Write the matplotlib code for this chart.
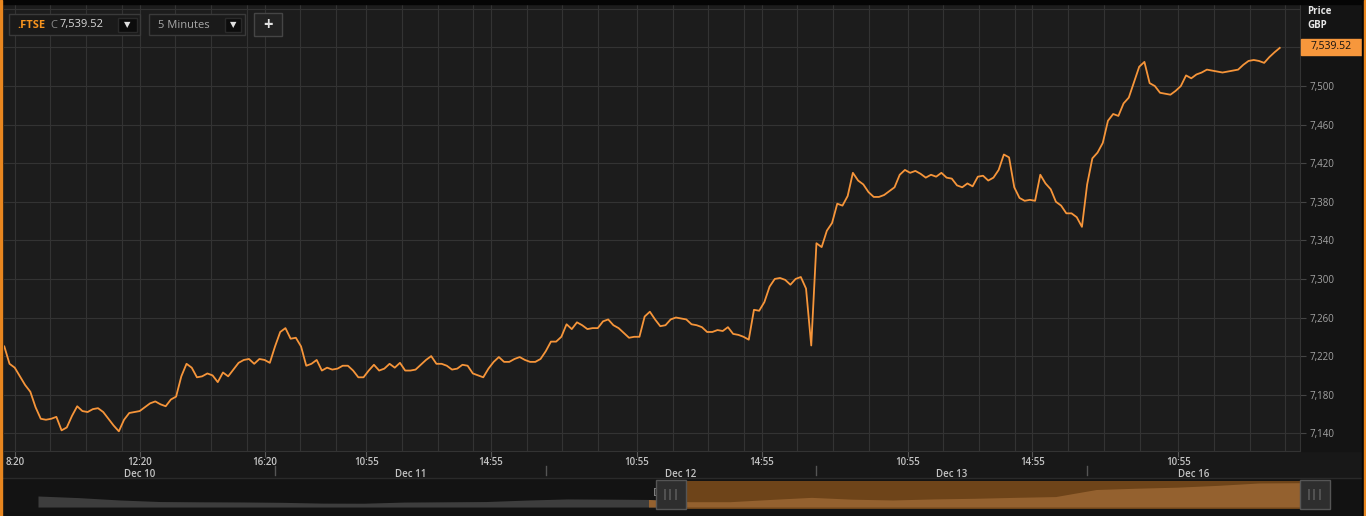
import numpy as np
import matplotlib.pyplot as plt
from matplotlib.patches import Rectangle
from matplotlib.lines import Line2D

plt.rcParams['font.family'] = ['Open Sans', 'DejaVu Sans']

# FTSE 100, 10-minute closes per session (8:00 .. 16:30)
sessions = ['Dec 10', 'Dec 11', 'Dec 12', 'Dec 13', 'Dec 16']
dec10 = [7230, 7212, 7208, 7199, 7190, 7183, 7167, 7155, 7154, 7155,
         7157, 7143, 7146, 7158, 7168, 7163, 7162, 7165, 7166, 7162,
         7155, 7148, 7142, 7154, 7161, 7162, 7163, 7167, 7171, 7173,
         7170, 7168, 7175, 7178, 7199, 7212, 7208, 7198, 7199, 7202,
         7200, 7193, 7203, 7199, 7206, 7213, 7216, 7217, 7212, 7217,
         7216, 7213]
dec11 = [7230, 7245, 7249, 7238, 7239, 7230, 7210, 7212, 7216, 7205,
         7208, 7206, 7207, 7210, 7210, 7205, 7198, 7198, 7205, 7211,
         7205, 7207, 7212, 7208, 7213, 7205, 7205, 7206, 7211, 7216,
         7220, 7212, 7212, 7210, 7206, 7207, 7211, 7210, 7202, 7200,
         7198, 7207, 7214, 7219, 7214, 7214, 7217, 7219, 7216, 7214,
         7214, 7217]
dec12 = [7225, 7235, 7235, 7240, 7253, 7248, 7255, 7252, 7248, 7249,
         7249, 7256, 7258, 7252, 7249, 7244, 7239, 7240, 7240, 7261,
         7266, 7258, 7251, 7252, 7258, 7260, 7259, 7258, 7253, 7252,
         7250, 7245, 7245, 7247, 7246, 7250, 7243, 7242, 7240, 7237,
         7268, 7267, 7276, 7292, 7300, 7301, 7299, 7294, 7300, 7302,
         7290, 7231]
dec13 = [7337, 7333, 7350, 7358, 7378, 7376, 7386, 7410, 7402, 7398,
         7390, 7385, 7385, 7387, 7391, 7395, 7408, 7413, 7410, 7412,
         7409, 7405, 7408, 7406, 7410, 7405, 7404, 7397, 7395, 7399,
         7396, 7406, 7407, 7402, 7405, 7413, 7429, 7426, 7395, 7384,
         7381, 7382, 7381, 7408, 7399, 7393, 7380, 7376, 7368, 7368,
         7364, 7354]
dec16 = [7398, 7425, 7431, 7441, 7464, 7471, 7469, 7482, 7488, 7504,
         7520, 7525, 7503, 7500, 7493, 7492, 7491, 7495, 7500, 7511,
         7508, 7512, 7514, 7517, 7516, 7515, 7514, 7515, 7516, 7517,
         7522, 7526, 7527, 7526, 7524, 7530, 7535, 7539.52]
closes = [dec10, dec11, dec12, dec13, dec16]
last_price = 7539.52

tick_day = [0, 0, 0, 1, 1, 2, 2, 3, 3, 4]
tick_time = ['8:20', '12:20', '16:20', '10:55', '14:55',
             '10:55', '14:55', '10:55', '14:55', '10:55']
y_ticks = [7140, 7180, 7220, 7260, 7300, 7340, 7380, 7420, 7460, 7500, 7540]

# navigator (longer history)
nav_vals = [7256, 7225, 7180, 7150, 7145, 7142, 7135, 7120, 7118, 7140,
            7145, 7150, 7178, 7200, 7196, 7190, 7147, 7147, 7190, 7230,
            7195, 7180, 7200, 7212, 7230, 7245, 7380, 7405, 7425, 7460,
            7505, 7510]

SLOTS = 52  # 10-minute slots per session
W, H = 1366, 516


def fx(px):
    return px / W


def fy(py):
    return 1 - py / H


def slot(day, hhmm):
    h, m = hhmm.split(':')
    return day * SLOTS + (int(h) * 60 + int(m) - 480) / 10


t, p = [], []
for d, vals in enumerate(closes):
    t += [d * SLOTS + k for k in range(len(vals))]
    p += vals

fig = plt.figure(figsize=(W / 100, H / 100), dpi=100, facecolor='#161616')

# background bands
fig.patches.append(Rectangle((0, fy(516)), 1, 38 / H, transform=fig.transFigure,
                             color='#121212', zorder=-5))
fig.patches.append(Rectangle((0, fy(478)), 1, 27 / H, transform=fig.transFigure,
                             color='#181818', zorder=-5))
fig.patches.append(Rectangle((fx(1300), fy(451)), 63 / W, 447 / H, transform=fig.transFigure,
                             color='#141414', zorder=-5))

ax = fig.add_axes([fx(4), fy(451), 1296 / W, 446 / H])
ax.set_facecolor('#1c1c1c')
x0 = -0.06
x1 = (1300 - 4.3) / 5.206
ax.set_xlim(x0, x1)
ax.set_ylim(7121.6, 7584)

ax.plot(t, p, color='#f6953a', lw=1.3, solid_joinstyle='round', zorder=3)

# x ticks
major = [slot(d, s) for d, s in zip(tick_day, tick_time)]
minor = []
bounds = major + [x1]
for i in range(len(bounds) - 1):
    v = bounds[i] + 6.86
    while v < bounds[i + 1] - 2:
        minor.append(v)
        v += 6.86
ax.set_xticks(major)
ax.set_xticklabels(tick_time)
ax.set_xticks(minor, minor=True)
ax.tick_params(axis='x', which='major', length=4, color='#555555', labelcolor='#c4c4c4',
               labelsize=7, pad=0.5)
ax.tick_params(axis='x', which='minor', length=0)
for lab in ax.get_xticklabels():
    lab.set_fontweight('semibold')

# y ticks on the right
ax.yaxis.tick_right()
ax.set_yticks(y_ticks)
ax.set_yticklabels(['' if v == 7540 else f'{v:,}' for v in y_ticks])
ax.set_yticks([7580], minor=True)
ax.tick_params(axis='y', which='major', length=4, color='#444444', labelcolor='#a4a4a4',
               labelsize=7, pad=3)
ax.tick_params(axis='y', which='minor', length=0)

ax.grid(which='both', color='#333333', lw=0.8)
ax.set_axisbelow(True)
for side in ['top', 'left']:
    ax.spines[side].set_visible(False)
ax.spines['right'].set_color('#333333')
ax.spines['bottom'].set_color('#333333')

# session labels and separators
tr = ax.get_xaxis_transform()
for d, name in enumerate(sessions):
    lo = max(d * SLOTS, x0)
    hi = min((d + 1) * SLOTS, x1)
    ax.text((lo + hi) / 2, -23.5 / 446, name, transform=tr, ha='center', va='center',
            fontsize=7, fontweight='semibold', color='#c4c4c4')
    if d > 0:
        ax.add_line(Line2D([d * SLOTS, d * SLOTS], [-15 / 446, -24 / 446], transform=tr,
                           color='#555555', lw=1, clip_on=False))

fig.add_artist(Line2D([0, 1], [fy(477.5), fy(477.5)], color='#2a2a2a', lw=1))

# price header and last price box
fig.text(fx(1307), fy(11.5), 'Price', fontsize=7, fontweight='bold', color='#e6e6e6', va='center')
fig.text(fx(1307), fy(25.5), 'GBP', fontsize=7, fontweight='bold', color='#e6e6e6', va='center')
fig.patches.append(Rectangle((fx(1301), fy(55)), 61 / W, 16 / H, transform=fig.transFigure,
                             color='#f7973c', zorder=5))
fig.text(fx(1331), fy(47), f'{last_price:,.2f}', fontsize=7.5, color='#111111',
         ha='center', va='center', zorder=6)

# top-left controls


def box(x, y, w, h, fc, ec):
    fig.patches.append(Rectangle((fx(x), fy(y + h)), w / W, h / H, transform=fig.transFigure,
                                 facecolor=fc, edgecolor=ec, lw=1, zorder=5))


box(9, 14, 131, 21, '#1a1a1a', '#3a3a3a')
box(118, 18, 19, 14, '#0c0c0c', '#2a2a2a')
box(149, 14, 96, 21, '#1a1a1a', '#3a3a3a')
box(225, 18, 16, 14, '#0c0c0c', '#2a2a2a')
box(254, 13, 28, 23, '#222222', '#454545')
fig.text(fx(17), fy(25), '.FTSE', fontsize=8, fontweight='bold', color='#f7941e', va='center', zorder=6)
fig.text(fx(50), fy(25), 'C', fontsize=8, color='#8a8a8a', va='center', zorder=6)
fig.text(fx(60), fy(25), f'{last_price:,.2f}', fontsize=8, color='#d8d8d8', va='center', zorder=6)
fig.text(fx(158), fy(25), '5 Minutes', fontsize=8, color='#a8a8a8', va='center', zorder=6)
for cx in [127.5, 233]:
    fig.text(fx(cx), fy(25), '\u25bc', fontsize=6, color='#e0e0e0', ha='center', va='center',
             family='DejaVu Sans', zorder=6)
fig.text(fx(268), fy(24.5), '+', fontsize=12, fontweight='bold', color='#e0e0e0',
         ha='center', va='center', zorder=6)

# navigator
nav = fig.add_axes([fx(4), fy(512), 1296 / W, 34 / H])
nav.set_facecolor('#131313')
idx = np.arange(len(nav_vals))
nav.set_xlim((4 - 38) / 40.7, (1300 - 38) / 40.7)
nav.set_ylim(6950, 7600)
sel = (686 - 38) / 40.7
nav.fill_between(idx[:17], 7045, nav_vals[:17], color='#3d3d3d', lw=0, zorder=1)
nav.axvspan(sel, len(nav_vals), ymin=2.7 / 34, ymax=31.3 / 34, color='#6e4419', lw=0, zorder=2)
nav.fill_between(idx[15:], 7045, nav_vals[15:], color='#94612f', lw=0, zorder=3)
nav.set_xticks([])
nav.set_yticks([])
for s in nav.spines.values():
    s.set_visible(False)

fig.text(fx(668), fy(494), 'Dec 9', fontsize=8, fontweight='semibold', color='#9a9a9a',
         alpha=0.8, ha='center', va='center', zorder=4)
for hx in [656, 1300]:
    box(hx, 480, 29.5, 28.5, '#2e2e2e', '#555555')
    fig.text(fx(hx + 14.8), fy(494), '|||', fontsize=8, color='#8c8c8c',
             ha='center', va='center', zorder=6)

# frame
fig.patches.append(Rectangle((0, fy(4)), 1, 4 / H, transform=fig.transFigure,
                             color='#050505', zorder=8))
fig.patches.append(Rectangle((0, 0), 1.6 / W, 1, transform=fig.transFigure,
                             color='#e8861f', zorder=9))
fig.patches.append(Rectangle((fx(1362), 0), 1.5 / W, 1, transform=fig.transFigure,
                             color='#050505', zorder=9))
fig.patches.append(Rectangle((fx(1363.5), 0), 2.5 / W, 1, transform=fig.transFigure,
                             color='#e8861f', zorder=9))

fig.savefig('out.png', dpi=100, facecolor=fig.get_facecolor())
